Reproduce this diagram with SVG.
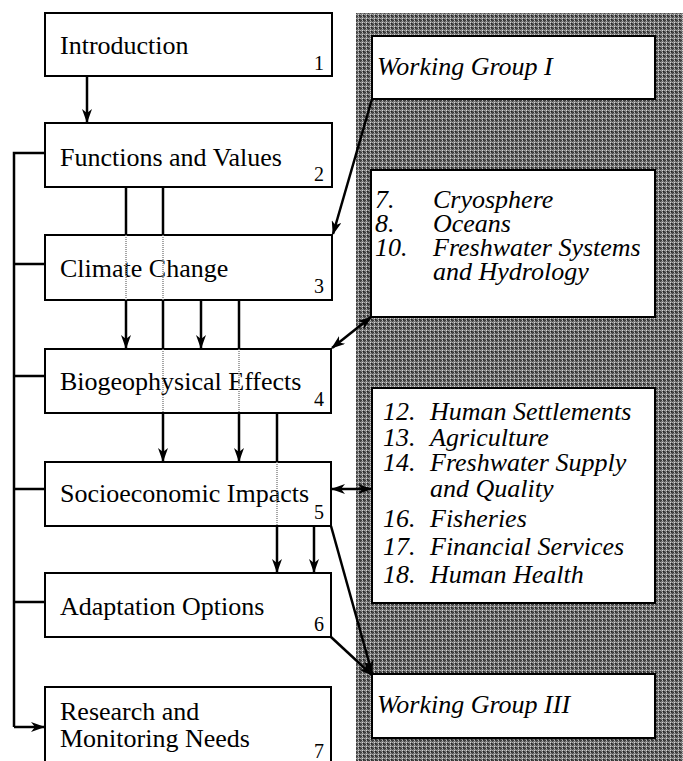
<svg xmlns="http://www.w3.org/2000/svg" width="683" height="761" viewBox="0 0 683 761">
<style>
.box{fill:#fff;stroke:#000;stroke-width:2}
.lbl{font-family:"Liberation Serif","Times New Roman",serif;font-size:26px;fill:#000}
.num{font-family:"Liberation Serif","Times New Roman",serif;font-size:20px;fill:#000}
.it{font-family:"Liberation Serif","Times New Roman",serif;font-size:26px;font-style:italic;fill:#000}
.c{fill:none;stroke:#000;stroke-width:2.5}
.d{fill:none;stroke:#888;stroke-width:1.5;stroke-dasharray:1 1}
</style>
<defs>
<pattern id="ht" width="4" height="4" patternUnits="userSpaceOnUse">
<rect width="4" height="4" fill="#7c7c7c"/>
<rect x="0" y="0" width="4" height="1" fill="#3a3a3a"/>
<rect x="0" y="0" width="1" height="4" fill="#444"/>
<rect x="2" y="2" width="1" height="1" fill="#d8d8d8"/>
<rect x="2" y="0" width="1" height="1" fill="#bbb"/>
<rect x="0" y="2" width="1" height="1" fill="#aaa"/>
<rect x="3" y="3" width="1" height="1" fill="#222"/>
</pattern>
<marker id="ah" viewBox="0 0 14 10" refX="13" refY="5" markerWidth="14" markerHeight="10" markerUnits="userSpaceOnUse" orient="auto-start-reverse">
<path d="M0,0 L14,5 L0,10 L4,5 z" fill="#000"/>
</marker>
</defs>
<rect id="panel" x="356" y="13" width="327" height="748" fill="url(#ht)"/>

<g id="n1"><rect class="box" x="45" y="13" width="287" height="63"/><text class="lbl" x="60" y="54">Introduction</text><text class="num" x="314" y="70">1</text></g>
<g id="n2"><rect class="box" x="45" y="123" width="287" height="64"/><text class="lbl" x="60" y="166">Functions and Values</text><text class="num" x="314" y="181">2</text></g>
<g id="n3"><rect class="box" x="45" y="235" width="287" height="65"/><text class="lbl" x="60" y="277">Climate Change</text><text class="num" x="314" y="293">3</text></g>
<g id="n4"><rect class="box" x="45" y="349" width="286" height="64"/><text class="lbl" x="60" y="390">Biogeophysical Effects</text><text class="num" x="314" y="406">4</text></g>
<g id="n5"><rect class="box" x="45" y="462" width="286" height="64"/><text class="lbl" x="60" y="502">Socioeconomic Impacts</text><text class="num" x="314" y="519">5</text></g>
<g id="n6"><rect class="box" x="45" y="573" width="286" height="64"/><text class="lbl" x="60" y="615">Adaptation Options</text><text class="num" x="314" y="631">6</text></g>
<g id="n7"><rect class="box" x="45" y="687" width="286" height="90"/><text class="lbl" x="60" y="720">Research and</text><text class="lbl" x="60" y="747">Monitoring Needs</text><text class="num" x="314" y="758">7</text></g>

<g id="wg1"><rect class="box" x="372" y="36" width="283" height="63"/><text class="it" x="377" y="75">Working Group I</text></g>
<g id="wg2"><rect class="box" x="371" y="170" width="284" height="147"/>
<text class="it" x="375" y="208">7.</text><text class="it" x="433" y="208">Cryosphere</text>
<text class="it" x="375" y="232">8.</text><text class="it" x="433" y="232">Oceans</text>
<text class="it" x="375" y="256">10.</text><text class="it" x="433" y="256">Freshwater Systems</text>
<text class="it" x="433" y="280">and Hydrology</text></g>
<g id="wg2b"><rect class="box" x="372" y="388" width="283" height="215"/>
<text class="it" x="383" y="420">12.</text><text class="it" x="430" y="420">Human Settlements</text>
<text class="it" x="383" y="446">13.</text><text class="it" x="430" y="446">Agriculture</text>
<text class="it" x="383" y="471">14.</text><text class="it" x="430" y="471">Freshwater Supply</text>
<text class="it" x="430" y="497">and Quality</text>
<text class="it" x="383" y="527">16.</text><text class="it" x="430" y="527">Fisheries</text>
<text class="it" x="383" y="555">17.</text><text class="it" x="430" y="555">Financial Services</text>
<text class="it" x="383" y="583">18.</text><text class="it" x="430" y="583">Human Health</text></g>
<g id="wg3"><rect class="box" x="372" y="674" width="283" height="64"/><text class="it" x="377" y="713">Working Group III</text></g>

<g id="connectors">
<path class="c" d="M87,76 V122" marker-end="url(#ah)"/>
<path class="c" d="M45,153 H14 V727"/>
<path class="c" d="M14,264 H45 M14,376 H45 M14,489 H45 M14,602 H45"/>
<path class="c" d="M14,727 H44" marker-end="url(#ah)"/>
<path class="c" d="M126,187 V235"/><path class="d" d="M126,235 V300"/><path class="c" d="M126,300 V348" marker-end="url(#ah)"/>
<path class="c" d="M163,187 V235 M163,300 V349"/><path class="d" d="M163,235 V300 M163,349 V413"/><path class="c" d="M163,413 V461" marker-end="url(#ah)"/>
<path class="c" d="M201,300 V348" marker-end="url(#ah)"/>
<path class="c" d="M239,300 V349"/><path class="d" d="M239,349 V413"/><path class="c" d="M239,413 V461" marker-end="url(#ah)"/>
<path class="c" d="M277,413 V462"/><path class="d" d="M277,462 V526"/><path class="c" d="M277,526 V572" marker-end="url(#ah)"/>
<path class="c" d="M314,526 V572" marker-end="url(#ah)"/>
<path class="c" d="M372,99 Q357,150 333,234" marker-end="url(#ah)"/>
<path class="c" d="M371,317 L332,348" marker-start="url(#ah)" marker-end="url(#ah)"/>
<path class="c" d="M332,489 H371" marker-start="url(#ah)" marker-end="url(#ah)"/>
<path class="c" d="M331,526 L372,673" marker-end="url(#ah)"/>
<path class="c" d="M331,637 L372,675" marker-end="url(#ah)"/>
</g>
</svg>
